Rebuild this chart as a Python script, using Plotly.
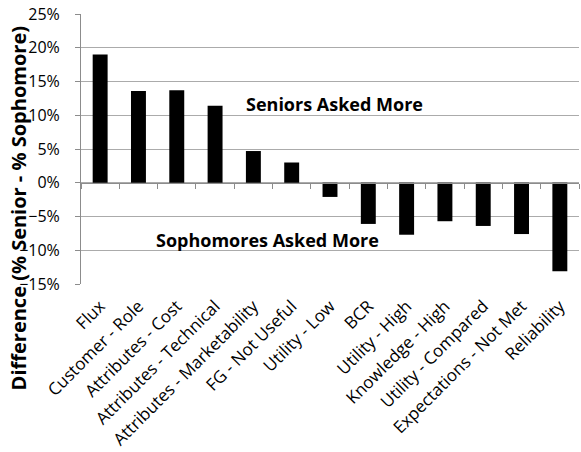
import plotly.graph_objects as go

categories = ["Flux", "Customer - Role", "Attributes - Cost", "Attributes - Technical",
              "Attributes - Marketability", "FG - Not Useful", "Utility - Low", "BCR",
              "Utility - High", "Knowledge - High", "Utility - Compared",
              "Expectations - Not Met", "Reliability"]
values = [0.190, 0.136, 0.137, 0.114, 0.047, 0.030, -0.021, -0.061,
          -0.077, -0.057, -0.064, -0.076, -0.131]
y_ticks = [-0.15, -0.10, -0.05, 0.0, 0.05, 0.10, 0.15, 0.20, 0.25]

FONT = "Open Sans"
GRID = "#ababab"

fig = go.Figure()
fig.add_trace(go.Bar(x=categories, y=values, marker=dict(color="black", line=dict(width=0)),
                     showlegend=False, hoverinfo="x+y"))
# invisible trace to drive the zero axis with boundary ticks
fig.add_trace(go.Scatter(x=categories, y=[0]*len(categories), xaxis="x2", mode="markers",
                         marker=dict(opacity=0), showlegend=False, hoverinfo="skip"))

fig.update_layout(
    width=581, height=452,
    margin=dict(l=81, r=2, t=14, b=168),
    paper_bgcolor="white", plot_bgcolor="white",
    bargap=0.61,
    font=dict(family=FONT, color="black"),
    xaxis=dict(type="category", tickangle=-45, tickfont=dict(size=17, family=FONT),
               showgrid=False, showline=False, ticks="", zeroline=False,
               ticklabelstandoff=8,
               range=[-0.5, len(categories) - 0.5]),
    xaxis2=dict(type="category", overlaying="x", anchor="free", position=0.375,
                showline=True, linecolor="#8c8c8c", linewidth=1,
                ticks="outside", ticklen=5, tickcolor="#8c8c8c", tickson="boundaries",
                showticklabels=False, showgrid=False, zeroline=False,
                range=[-0.5, len(categories) - 0.5], side="bottom"),
    yaxis=dict(range=[-0.15, 0.25], tickvals=y_ticks, tickformat=".0%",
               tickfont=dict(size=16, family=FONT),
               showgrid=True, gridcolor=GRID, gridwidth=1, zeroline=False,
               showline=True, linecolor="#8c8c8c", linewidth=1,
               ticks="outside", ticklen=5, tickcolor="#8c8c8c", ticklabelstandoff=12),
    annotations=[
        dict(text="<b>Difference (% Senior - % Sophomore)</b>", textangle=-90,
             xref="paper", yref="paper", x=-0.1265, y=0.28, showarrow=False,
             font=dict(size=20, family=FONT), xanchor="center", yanchor="middle"),
        dict(text="<b>Seniors Asked More</b>", xref="paper", yref="y", x=0.51, y=0.116,
             showarrow=False, font=dict(size=18, family=FONT)),
        dict(text="<b>Sophomores Asked More</b>", xref="paper", yref="y", x=0.375, y=-0.085,
             showarrow=False, font=dict(size=18, family=FONT)),
    ],
)

fig.write_html("out.html")
